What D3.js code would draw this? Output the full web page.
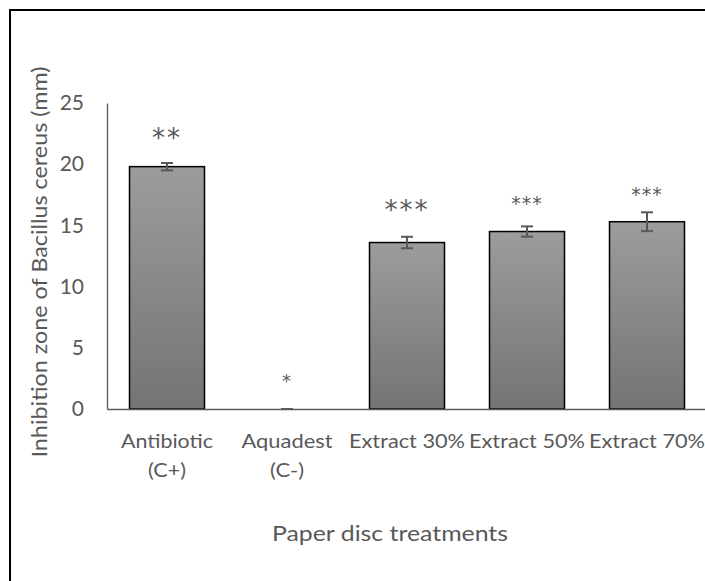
<!DOCTYPE html>
<html>
<head>
<meta charset="utf-8">
<script src="https://cdn.jsdelivr.net/npm/d3@7"></script>
<style>
  html, body { margin: 0; padding: 0; background: #fff; }
  svg { display: block; }
  text { font-family: Lato, "Open Sans", sans-serif; fill: #595959; }
</style>
</head>
<body>
<svg id="chart" width="705" height="581"></svg>
<script>
const categories = [["Antibiotic", "(C+)"], ["Aquadest", "(C-)"], ["Extract 30%"], ["Extract 50%"], ["Extract 70%"]];
const values = [19.8, 0, 13.6, 14.5, 15.3];
const errors = [0.3, 0, 0.47, 0.42, 0.77];
const significance = ["**", "*", "***", "***", "***"];
const yTicks = [0, 5, 10, 15, 20, 25];
const yTitle = "Inhibition zone of Bacillus cereus (mm)";
const xTitle = "Paper disc treatments";

// style-only: rendered widths of the label lines (px)
const labelWidths = [[92, 38], [91, 34], [116], [116], [116]];

const svg = d3.select("#chart");

// outer frame (cropped on right/bottom)
svg.append("rect").attr("x", 10).attr("y", 10).attr("width", 800).attr("height", 700)
  .attr("fill", "none").attr("stroke", "#000").attr("stroke-width", 2);

const x = d3.scaleBand().domain(d3.range(categories.length)).range([107, 707]).paddingInner(0.375).paddingOuter(0.1875);
const y = d3.scaleLinear().domain([0, 25]).range([409, 103]);

const defs = svg.append("defs");
const grad = defs.append("linearGradient").attr("id", "barGrad").attr("x1", 0).attr("y1", 0).attr("x2", 0).attr("y2", 1);
grad.append("stop").attr("offset", "0%").attr("stop-color", "#9c9c9c");
grad.append("stop").attr("offset", "100%").attr("stop-color", "#747474");

// y axis
const yAxis = svg.append("g").attr("transform", "translate(107,0)")
  .call(d3.axisLeft(y).tickValues(yTicks).tickSize(0).tickPadding(23));
yAxis.select(".domain").attr("stroke", "#595959").attr("stroke-width", 1.3);
yAxis.selectAll("text").style("font-size", "21px").attr("fill", "#595959").style("font-family", "Lato, sans-serif");

// bars
svg.selectAll("rect.bar").data(values).enter().append("rect").attr("class", "bar")
  .attr("x", (d, i) => x(i)).attr("width", x.bandwidth())
  .attr("y", d => y(d)).attr("height", d => y(0) - y(d))
  .attr("fill", "url(#barGrad)").attr("stroke", "#000").attr("stroke-width", d => d > 0 ? 1.5 : 0);

// x axis
const xAxis = svg.append("g").attr("transform", "translate(0,409)")
  .call(d3.axisBottom(x).tickSize(0).tickFormat(""));
xAxis.select(".domain").attr("stroke", "#595959").attr("stroke-width", 1.3);

// x tick labels (multi-line)
const xl = svg.append("g");
categories.forEach((lines, i) => {
  lines.forEach((ln, k) => {
    xl.append("text").attr("text-anchor", "middle").style("font-size", "20px")
      .attr("x", x(i) + x.bandwidth() / 2).attr("y", 448 + k * 29)
      .attr("textLength", labelWidths[i][k]).attr("lengthAdjust", "spacingAndGlyphs")
      .text(ln);
  });
});

// error bars
const eg = svg.append("g").attr("stroke", "#595959").attr("stroke-width", 2).attr("fill", "none");
values.forEach((v, i) => {
  const cx = x(i) + x.bandwidth() / 2;
  const lo = y(v - errors[i]), hi = y(v + errors[i]);
  eg.append("line").attr("x1", cx).attr("x2", cx).attr("y1", lo).attr("y2", hi);
  eg.append("line").attr("x1", cx - 6).attr("x2", cx + 6).attr("y1", lo).attr("y2", lo);
  eg.append("line").attr("x1", cx - 6).attr("x2", cx + 6).attr("y1", hi).attr("y2", hi);
});

// significance asterisks
const starSize = [26, 18, 26, 19, 19];
const starGap = [28, 30, 29, 25, 20];
svg.selectAll("text.sig").data(significance).enter().append("text").attr("class", "sig")
  .attr("text-anchor", "middle")
  .attr("x", (d, i) => x(i) + x.bandwidth() / 2)
  .attr("y", (d, i) => y(values[i] + errors[i]) - starGap[i] + starSize[i] * 0.45)
  .style("font-size", (d, i) => starSize[i] + "px")
  .style("font-family", "'DejaVu Sans', sans-serif")
  .style("letter-spacing", (d, i) => (i === 0 || i === 2) ? "2px" : "1px")
  .attr("fill", "#404040")
  .text(d => d);

// axis titles
svg.append("text").attr("transform", "translate(47,262) rotate(-90)").attr("text-anchor", "middle")
  .style("font-size", "21px").attr("textLength", 391).attr("lengthAdjust", "spacingAndGlyphs").text(yTitle);
svg.append("text").attr("x", 390).attr("y", 541).attr("text-anchor", "middle")
  .style("font-size", "21px").attr("textLength", 236).attr("lengthAdjust", "spacingAndGlyphs").text(xTitle);
</script>
</body>
</html>
